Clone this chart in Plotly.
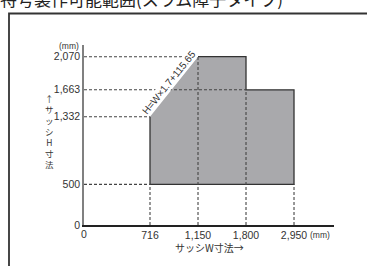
import plotly.graph_objects as go

# ---- data ----
title_text = "特号製作可能範囲(スラム障子タイプ)"
x_labels = ["716", "1,150", "1,800", "2,950"]
widths = [716, 1150, 1800, 2950]
y_ticks = [0, 500, 1332, 1663, 2070]
y_tick_labels = ["0", "500", "1,332", "1,663", "2,070"]

# region outline (W, H) vertices
region_w = [716, 716, 1150, 1800, 1800, 2950, 2950]
region_h = [500, 1332, 2070, 2070, 1663, 1663, 500]

# dashed guides: horizontal (height -> width where it ends)
h_guides_h = [500, 1332, 1663, 2070]
h_guides_w = [716, 716, 1800, 1150]
# vertical (width -> height where it ends)
v_guides_w = [716, 1150, 1800, 2950]
v_guides_h = [500, 2070, 1663, 500]

formula_text = "H=W×1.7+115.65"

# ---- layout helpers ----
lab = dict(zip(widths, x_labels))
idx = {w: i for i, w in enumerate(widths)}
x_range = [-1.375, 3.833]
y_range = [0, 2214]
NUM = "Liberation Sans, Arial, sans-serif"
JP = "Noto Sans CJK JP, sans-serif"
INK = "#333333"

fig = go.Figure()

# filled region (no outline on diagonal)
fig.add_trace(go.Scatter(
    x=[lab[w] for w in region_w] + [lab[region_w[0]]],
    y=region_h + [region_h[0]],
    mode="lines", fill="toself", fillcolor="#a9a9ac",
    line=dict(width=0), hoverinfo="skip", showlegend=False))

# outline except the diagonal edge
outline_w = region_w[2:] + region_w[:2]
outline_h = region_h[2:] + region_h[:2]
fig.add_trace(go.Scatter(
    x=[lab[w] for w in outline_w], y=outline_h,
    mode="lines", line=dict(color=INK, width=1.3),
    hoverinfo="skip", showlegend=False))

shapes = []
dash = dict(color="#444444", width=1.1, dash="3px,2px")
for h, w in zip(h_guides_h, h_guides_w):
    shapes.append(dict(type="line", xref="x", yref="y",
                       x0=x_range[0], x1=idx[w], y0=h, y1=h, line=dash))
for w, h in zip(v_guides_w, v_guides_h):
    shapes.append(dict(type="line", xref="x", yref="y",
                       x0=idx[w], x1=idx[w], y0=0, y1=h, line=dash))
# outer frame
shapes.append(dict(type="rect", xref="paper", yref="paper",
                   x0=-0.3, x1=1.5, y0=-0.5, y1=1.175,
                   line=dict(color=INK, width=1.8), fillcolor="rgba(0,0,0,0)"))

annotations = [
    # origin "0" on x axis
    dict(x=x_range[0], y=0, xref="x", yref="y", text="0", showarrow=False,
         xanchor="center", yanchor="top", yshift=-1,
         font=dict(family=NUM, size=10.5, color=INK)),
    # (mm) on x axis
    dict(x=idx[2950], y=0, xref="x", yref="y", text="(mm)", showarrow=False,
         xanchor="left", yanchor="top", xshift=14, yshift=-3,
         font=dict(family=NUM, size=8.5, color=INK)),
    # (mm) on y axis
    dict(x=0, y=2070, xref="paper", yref="y", text="(mm)", showarrow=False,
         xanchor="right", yanchor="bottom", xshift=-3, yshift=4,
         font=dict(family=NUM, size=8.5, color=INK)),
    # x title
    dict(x=0.5, y=-0.124, xref="paper", yref="paper", text="サッシW寸法→",
         showarrow=False, xanchor="center", yanchor="middle",
         font=dict(family=JP, size=10, color=INK)),
    # y title (vertical)
    dict(x=-0.14, y=0.52, xref="paper", yref="paper",
         text="<br>".join(list("↑サッシH寸法")),
         showarrow=False, xanchor="center", yanchor="middle",
         font=dict(family=JP, size=8.5, color=INK)),
    # formula along diagonal
    dict(x=0.5, y=(1332 + 2070) / 2, xref="x", yref="y", text=formula_text,
         showarrow=False, textangle=-51, xshift=-5, yshift=4,
         bgcolor="white", borderpad=0,
         font=dict(family=NUM, size=10, color=INK)),
]

fig.update_layout(
    width=367, height=266,
    margin=dict(l=84, r=33, t=45, b=41),
    paper_bgcolor="white", plot_bgcolor="white",
    showlegend=False,
    title=dict(text=title_text, x=0.0, xref="container", xanchor="left",
               y=1 - 0.5 / 266, yref="container", yanchor="middle",
               font=dict(family=JP, size=17, color="#222222")),
    xaxis=dict(type="category", categoryorder="array", categoryarray=x_labels,
               range=x_range, showgrid=False, zeroline=False,
               showline=True, linecolor="#222222", linewidth=1.5,
               ticks="", tickfont=dict(family=NUM, size=10.5, color=INK)),
    yaxis=dict(range=y_range, tickvals=y_ticks, ticktext=y_tick_labels,
               showgrid=False, zeroline=False,
               showline=True, linecolor="#808080", linewidth=1.5,
               ticks="", tickfont=dict(family=NUM, size=10.5, color=INK)),
    shapes=shapes, annotations=annotations,
)

fig.write_html("out.html", config={"displayModeBar": False},
               post_script="document.body.style.margin='0';document.body.style.padding='0';")
